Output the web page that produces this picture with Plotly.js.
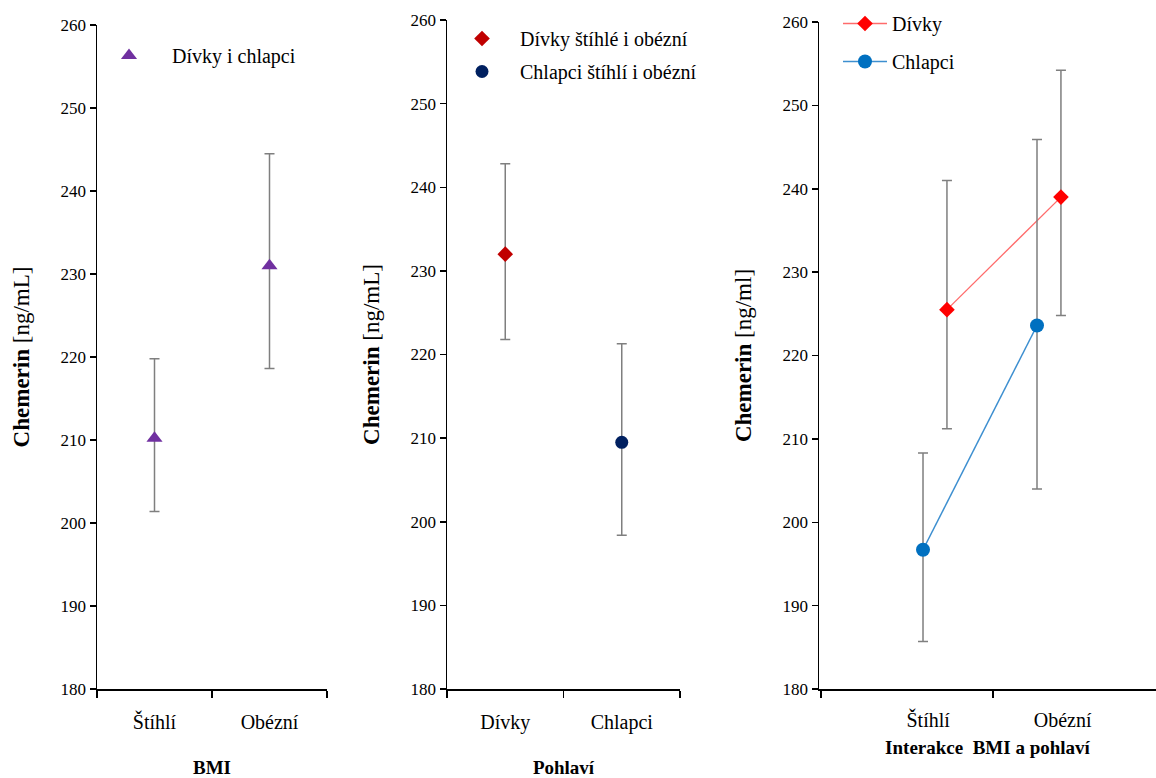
<!DOCTYPE html>
<html><head><meta charset="utf-8">
<script src="https://cdn.plot.ly/plotly-3.0.1.min.js"></script>
<style>body{margin:0;background:#fff}#c{width:1156px;height:778px}</style>
</head><body><div id="c"></div>
<script>
// Panel 1: BMI (girls and boys together)
const bmiCats = ['Štíhlí', 'Obézní'];
const bmiMean = [210.2, 231.0];
const bmiUpper = [219.8, 244.5];
const bmiLower = [201.4, 218.6];

// Panel 2: sex
const sexCats = ['Dívky', 'Chlapci'];
const sexMean = [232.0, 209.5];
const sexUpper = [242.8, 221.3];
const sexLower = [221.8, 198.4];

// Panel 3: interaction BMI x sex
const intCats = ['Štíhlí', 'Obézní'];
const girlsMean = [225.5, 239.0];
const girlsUpper = [241.0, 254.2];
const girlsLower = [211.2, 224.8];
const boysMean = [196.7, 223.6];
const boysUpper = [208.3, 245.9];
const boysLower = [185.7, 204.0];

const yTicks = [180, 190, 200, 210, 220, 230, 240, 250, 260];

const SERIF = "'Liberation Serif', 'Times New Roman', serif";
const errColor = '#7f7f7f';
function err(mean, up, lo) {
  return {type: 'data', symmetric: false,
    array: up.map((u, i) => u - mean[i]),
    arrayminus: lo.map((l, i) => mean[i] - l),
    color: errColor, thickness: 1.5, width: 5};
}
const pos = (n, off) => Array.from({length: n}, (_, i) => i + 1 + off);

const traces = [
  {type: 'scatter', mode: 'markers', x: bmiCats, y: bmiMean, xaxis: 'x', yaxis: 'y',
   name: 'Dívky i chlapci', legend: 'legend',
   marker: {symbol: 'triangle-up', size: 14, color: '#7030a0'}, error_y: err(bmiMean, bmiUpper, bmiLower)},
  {type: 'scatter', mode: 'markers', x: [sexCats[0]], y: [sexMean[0]], xaxis: 'x2', yaxis: 'y2',
   name: 'Dívky štíhlé i obézní', legend: 'legend2', legendgroup: 'a',
   marker: {symbol: 'diamond', size: 12, color: '#c00000'}, error_y: err([sexMean[0]], [sexUpper[0]], [sexLower[0]])},
  {type: 'scatter', mode: 'markers', x: [sexCats[1]], y: [sexMean[1]], xaxis: 'x2', yaxis: 'y2',
   name: 'Chlapci štíhlí i obézní', legend: 'legend2', legendgroup: 'b',
   marker: {symbol: 'circle', size: 13, color: '#002060'}, error_y: err([sexMean[1]], [sexUpper[1]], [sexLower[1]])},
  {type: 'scatter', mode: 'lines+markers', x: pos(2, 0.105), y: girlsMean, xaxis: 'x3', yaxis: 'y3',
   name: 'Dívky', legend: 'legend3', legendgroup: 'g',
   line: {color: '#ff6b6b', width: 1.3},
   marker: {symbol: 'diamond', size: 12, color: '#ff0000'}, error_y: err(girlsMean, girlsUpper, girlsLower)},
  {type: 'scatter', mode: 'lines+markers', x: pos(2, -0.105), y: boysMean, xaxis: 'x3', yaxis: 'y3',
   name: 'Chlapci', legend: 'legend3', legendgroup: 'h',
   line: {color: '#3d8fd0', width: 1.5},
   marker: {symbol: 'circle', size: 14, color: '#0070c0'}, error_y: err(boysMean, boysUpper, boysLower)}
];

const W = 1156, H = 778;
const fx = p => p / W, fy = p => 1 - p / H;

function yax(top, anchor, titleText) {
  return {domain: [fy(689), fy(top)], range: [180, 260], anchor: anchor,
    tickmode: 'array', tickvals: yTicks, ticks: 'outside', ticklen: 6, tickwidth: 1.5, tickcolor: '#000',
    showline: true, linecolor: '#000', linewidth: 1.5, showgrid: false, zeroline: false,
    tickfont: {family: SERIF, size: 17, color: '#000'},
    title: {text: titleText, font: {family: SERIF, size: 23, color: '#000'}, standoff: 24}};
}
function xcat(l, r, anchor, cats, titleText) {
  return {domain: [fx(l), fx(r)], anchor: anchor, type: 'category', categoryarray: cats,
    range: [-0.5, 1.5], tickson: 'boundaries', ticks: 'outside', ticklen: 7, tickwidth: 1.5, tickcolor: '#000',
    ticklabelstandoff: 14,
    showline: true, linecolor: '#000', linewidth: 1.5, showgrid: false, zeroline: false,
    tickfont: {family: SERIF, size: 20, color: '#000'},
    title: {text: '<b>' + titleText + '</b>', font: {family: SERIF, size: 19, color: '#000'}, standoff: 30}};
}

const layout = {
  width: W, height: H, margin: {l: 0, r: 0, t: 0, b: 0},
  paper_bgcolor: '#fff', plot_bgcolor: '#fff', showlegend: true,
  font: {family: SERIF, color: '#000'},
  xaxis: xcat(97, 327, 'y', bmiCats, 'BMI'),
  yaxis: yax(25, 'x', '<b>Chemerin</b> [ng/mL]'),
  xaxis2: xcat(447, 680, 'y2', sexCats, 'Pohlaví'),
  yaxis2: yax(20, 'x2', '<b>Chemerin</b> [ng/mL]'),
  xaxis3: {domain: [fx(819), 1], anchor: 'y3', range: [-0.0175, 2.939],
    tickmode: 'array', tickvals: [0.94, 2.12], ticktext: intCats, ticks: '',
    ticklabelstandoff: 12,
    minor: {tickmode: 'array', tickvals: [0, 1.51], ticks: 'outside', ticklen: 7, tickwidth: 1.5, tickcolor: '#000', showgrid: false},
    showline: true, linecolor: '#000', linewidth: 1.5, showgrid: false, zeroline: false,
    tickfont: {family: SERIF, size: 20, color: '#000'},
    title: {text: '<b>Interakce  BMI a pohlaví</b>', font: {family: SERIF, size: 19, color: '#000'}, standoff: 11}},
  yaxis3: yax(22, 'x3', '<b>Chemerin</b> [ng/ml]'),
  legend: {x: fx(86), y: fy(36), xanchor: 'left', yanchor: 'top', bgcolor: 'rgba(0,0,0,0)',
    itemwidth: 76, font: {family: SERIF, size: 20, color: '#000'}},
  legend2: {x: fx(444), y: fy(19), xanchor: 'left', yanchor: 'top', bgcolor: 'rgba(0,0,0,0)',
    itemwidth: 66, tracegroupgap: 4, font: {family: SERIF, size: 20, color: '#000'}},
  legend3: {x: fx(838), y: fy(4), xanchor: 'left', yanchor: 'top', bgcolor: 'rgba(0,0,0,0)',
    itemwidth: 44, tracegroupgap: 9, font: {family: SERIF, size: 20, color: '#000'}}
};

Plotly.newPlot('c', traces, layout, {displayModeBar: false, staticPlot: true});
</script></body></html>
